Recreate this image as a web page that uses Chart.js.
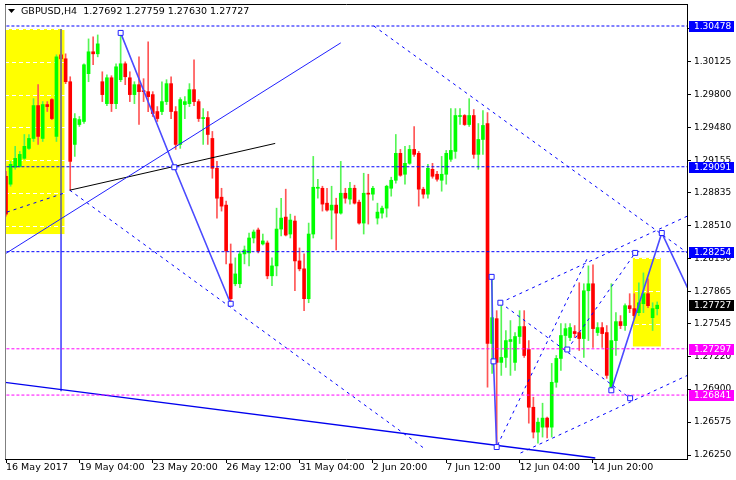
<!DOCTYPE html>
<html>
<head>
<meta charset="utf-8">
<script src="https://cdn.jsdelivr.net/npm/chart.js@4.4.1/dist/chart.umd.min.js"></script>
<style>
  html, body { margin: 0; padding: 0; background: #fff; }
</style>
</head>
<body>
<canvas id="chart" width="736" height="480"></canvas>
<script>
const symbolTitle = 'GBPUSD,H4';

// time axis: bar index of each label (H4 bars, 16 bars apart)
const timeBars = [0, 16, 32, 48, 64, 80, 96, 112, 128];
const timeLabels = ['16 May 2017', '19 May 04:00', '23 May 20:00', '26 May 12:00', '31 May 04:00',
  '2 Jun 20:00', '7 Jun 12:00', '12 Jun 04:00', '14 Jun 20:00'];

const priceTicks = [1.30450, 1.30125, 1.29800, 1.29480, 1.29155, 1.28835, 1.28510, 1.28190,
  1.27865, 1.27545, 1.27220, 1.26900, 1.26575, 1.26250];

// candles, one entry per H4 bar
const opens = [
  1.28997, 1.28919, 1.29086, 1.29095, 1.29174, 1.29272, 1.29370, 1.29694, 1.29370, 1.29704,
  1.29753, 1.29390, 1.30194, 1.30155, 1.29929, 1.29311, 1.29507, 1.29537, 1.30008, 1.30224,
  1.30204, 1.29929, 1.29713, 1.29968, 1.29713, 1.29949, 1.30106, 1.29968, 1.29802, 1.29900,
  1.29841, 1.29831, 1.29802, 1.29635, 1.29635, 1.29733, 1.29910, 1.29635, 1.29311, 1.29704,
  1.29713, 1.29851, 1.29733, 1.29566, 1.29576, 1.29370, 1.29076, 1.28791, 1.28713, 1.28134,
  1.27938, 1.27938, 1.28232, 1.28242, 1.28389, 1.28468, 1.28330, 1.28340, 1.28016, 1.28114,
  1.28477, 1.28595, 1.28428, 1.28556, 1.28163, 1.28085, 1.27791, 1.28428, 1.28879, 1.28879,
  1.28732, 1.28664, 1.28713, 1.28634, 1.28830, 1.28772, 1.28879, 1.28742, 1.28536, 1.28830,
  1.28821, 1.28585, 1.28634, 1.28683, 1.28879, 1.28958, 1.29223, 1.29017, 1.29125, 1.29262,
  1.29223, 1.28870, 1.28821, 1.29066, 1.29017, 1.28958, 1.29017, 1.29164, 1.29242, 1.29586,
  1.29596, 1.29507, 1.29596, 1.29213, 1.29360, 1.29517, 1.27349, 1.27594, 1.27163, 1.27212,
  1.27369, 1.27163, 1.27418, 1.27516, 1.27290, 1.26721, 1.26476, 1.26525, 1.26614, 1.26525,
  1.26967, 1.27202, 1.27428, 1.27408, 1.27467, 1.27457, 1.27398, 1.27869, 1.27938, 1.27457,
  1.27506, 1.27457, 1.26918, 1.27378, 1.27565, 1.27526, 1.27722, 1.27693, 1.27653, 1.27741,
  1.27840, 1.27604, 1.27692
];
const highs = [
  1.29047, 1.29144, 1.29292, 1.29242, 1.29409, 1.29409, 1.29762, 1.29900, 1.29733, 1.29733,
  1.29762, 1.30194, 1.30224, 1.30204, 1.29978, 1.29615, 1.29586, 1.30106, 1.30351, 1.30371,
  1.30390, 1.30027, 1.29998, 1.29988, 1.30106, 1.30410, 1.30125, 1.30027, 1.29929, 1.30174,
  1.29959, 1.30322, 1.29831, 1.29684, 1.29929, 1.29949, 1.29978, 1.29684, 1.29772, 1.29782,
  1.29910, 1.30145, 1.29753, 1.29664, 1.29635, 1.29439, 1.29144, 1.28879, 1.28752, 1.28330,
  1.28193, 1.28261, 1.28310, 1.28438, 1.28468, 1.28487, 1.28428, 1.28360, 1.28193, 1.28683,
  1.28781, 1.28870, 1.28624, 1.28605, 1.28291, 1.28232, 1.28536, 1.29193, 1.28968, 1.28899,
  1.28879, 1.28899, 1.28781, 1.29144, 1.28879, 1.28938, 1.28909, 1.28762, 1.29027, 1.29017,
  1.28899, 1.28732, 1.28703, 1.28909, 1.28988, 1.29409, 1.29262, 1.29292, 1.29301, 1.29488,
  1.29242, 1.28889, 1.29115, 1.29125, 1.29047, 1.29193, 1.29252, 1.29664, 1.29664, 1.29664,
  1.29605, 1.29762, 1.29655, 1.29517, 1.29645, 1.29625, 1.28006, 1.27673, 1.27741, 1.27477,
  1.27575, 1.27457, 1.27673, 1.27673, 1.27378, 1.26820, 1.26614, 1.26761, 1.26623, 1.27153,
  1.27231, 1.27545, 1.27545, 1.27545, 1.27526, 1.27948, 1.27938, 1.28114, 1.28124, 1.27555,
  1.27555, 1.27526, 1.27938, 1.27653, 1.27624, 1.27741, 1.27840, 1.27840, 1.27948, 1.28045,
  1.27987, 1.27751, 1.27759
];
const lows = [
  1.28605, 1.28899, 1.29066, 1.29086, 1.29164, 1.29262, 1.29340, 1.29311, 1.29340, 1.29635,
  1.29556, 1.29340, 1.30145, 1.29910, 1.28860, 1.29193, 1.29488, 1.29517, 1.29929, 1.30096,
  1.30174, 1.29733, 1.29694, 1.29635, 1.29664, 1.29929, 1.29900, 1.29733, 1.29713, 1.29507,
  1.29733, 1.29635, 1.29586, 1.29537, 1.29605, 1.29704, 1.29566, 1.29262, 1.29272, 1.29566,
  1.29684, 1.29694, 1.29537, 1.29311, 1.29311, 1.28978, 1.28585, 1.28654, 1.28134, 1.27741,
  1.27918, 1.27899, 1.28134, 1.28114, 1.28340, 1.28242, 1.28320, 1.27987, 1.27918, 1.28016,
  1.28409, 1.28409, 1.28389, 1.27869, 1.28065, 1.27673, 1.27751, 1.28389, 1.28781, 1.28654,
  1.28654, 1.28379, 1.28271, 1.28624, 1.28732, 1.28723, 1.28723, 1.28526, 1.28428, 1.28526,
  1.28762, 1.28526, 1.28585, 1.28595, 1.28801, 1.28929, 1.28997, 1.28919, 1.29115, 1.29193,
  1.28703, 1.28781, 1.28781, 1.28978, 1.28948, 1.28850, 1.28919, 1.29144, 1.29174, 1.29507,
  1.29498, 1.29488, 1.29174, 1.29066, 1.29213, 1.26918, 1.27055, 1.26329, 1.27035, 1.27114,
  1.27035, 1.27084, 1.27349, 1.27212, 1.26564, 1.26418, 1.26368, 1.26427, 1.26418, 1.26427,
  1.26918, 1.27084, 1.27310, 1.27378, 1.27408, 1.27280, 1.27212, 1.27378, 1.27310, 1.27428,
  1.27310, 1.27006, 1.26908, 1.27231, 1.27496, 1.27477, 1.27653, 1.27594, 1.27624, 1.27653,
  1.27702, 1.27477, 1.27630
];
const closes = [
  1.28624, 1.29115, 1.29174, 1.29213, 1.29292, 1.29370, 1.29694, 1.29390, 1.29704, 1.29684,
  1.29566, 1.30174, 1.30155, 1.29929, 1.29144, 1.29566, 1.29556, 1.30096, 1.30224, 1.30204,
  1.30302, 1.29802, 1.29968, 1.29713, 1.30076, 1.30106, 1.29978, 1.29802, 1.29900, 1.29831,
  1.29831, 1.29782, 1.29615, 1.29566, 1.29733, 1.29910, 1.29635, 1.29311, 1.29753, 1.29733,
  1.29851, 1.29733, 1.29566, 1.29576, 1.29409, 1.29076, 1.28781, 1.28703, 1.28261, 1.27791,
  1.28035, 1.28232, 1.28271, 1.28389, 1.28448, 1.28261, 1.28360, 1.28016, 1.28114, 1.28477,
  1.28585, 1.28418, 1.28566, 1.28163, 1.28085, 1.27791, 1.28428, 1.28889, 1.28889, 1.28723,
  1.28664, 1.28713, 1.28634, 1.28830, 1.28781, 1.28879, 1.28732, 1.28536, 1.28830, 1.28821,
  1.28879, 1.28644, 1.28683, 1.28899, 1.28958, 1.29223, 1.29007, 1.29125, 1.29262, 1.29213,
  1.28870, 1.28821, 1.29076, 1.28997, 1.28968, 1.29017, 1.29223, 1.29252, 1.29596, 1.29596,
  1.29507, 1.29596, 1.29213, 1.29360, 1.29498, 1.27349, 1.27604, 1.27163, 1.27212, 1.27378,
  1.27388, 1.27418, 1.27516, 1.27231, 1.26721, 1.26476, 1.26574, 1.26614, 1.26525, 1.26967,
  1.27202, 1.27428, 1.27496, 1.27506, 1.27447, 1.27398, 1.27869, 1.27938, 1.27496, 1.27506,
  1.27447, 1.27035, 1.27378, 1.27565, 1.27526, 1.27722, 1.27693, 1.27624, 1.27751, 1.27840,
  1.27722, 1.27693, 1.27727
];

// horizontal levels
const blueLevels = [1.30478, 1.29091, 1.28254];
const magentaLevels = [1.27297, 1.26841];

// drawn objects, as [bar, price] points
const trendUp = [[-0.2, 1.28232], [73.0, 1.30312]];
const blackTrend = [[13.9, 1.28860], [58.7, 1.29321]];
const yellowDash = [[0.2, 1.28644], [12.6, 1.28830]];
const fanLeft = [[13.9, 1.28860], [91.1, 1.26319]];
const bigDiagonal = [[80.2, 1.30478], [148.6, 1.28242]];
const bottomLine = [[-0.3, 1.26967], [128.5, 1.26221]];
const vLineTop = [[12, 1.30449], [12, 1.28428]];
const vLineBottom = [[12, 1.28428], [12, 1.26878]];
const zigzagLeft = [[25, 1.30410], [36.7, 1.29086], [49, 1.27741]];
const zigzagDrop = [[105.9, 1.28006], [106.3, 1.27173], [107, 1.26329]];
const steepDash = [[107.2, 1.26349], [126.7, 1.28183]];
const channelTop = [[107.8, 1.27751], [148.6, 1.28605]];
const channelMid = [[107.8, 1.27751], [136.1, 1.26810]];
const channelLow = [[112.2, 1.26270], [148.6, 1.27035]];
const riseDash = [[122.4, 1.27290], [137.2, 1.28242]];
const zigzagRight = [[132, 1.26888], [143, 1.28438], [148.6, 1.27899]];
const anchors = [[25, 1.30410], [36.7, 1.29086], [49, 1.27741], [105.9, 1.28006], [106.3, 1.27173],
  [107, 1.26329], [107.8, 1.27751], [136.1, 1.26810], [122.4, 1.27290], [137.2, 1.28242],
  [132, 1.26888], [143, 1.28438]];

// yellow boxes: [bar from, bar to, price top, price bottom]
const zones = [[-0.3, 12.75, 1.30449, 1.28428], [136.7, 142.8, 1.28193, 1.27320]];

const BLUE = '#0000ff';
const MAGENTA = '#ff00ff';
const FONT = 'DejaVu Sans';
Chart.defaults.font.family = FONT;

const bars = opens.map((_, i) => i);
const rising = bars.map(i => closes[i] >= opens[i]);
const last = opens.length - 1;

function segment(points, color, width, dash) {
  return {
    type: 'line',
    data: points.map(([x, y]) => ({ x, y })),
    borderColor: color,
    borderWidth: width,
    borderDash: dash || [],
    pointRadius: 0,
    tension: 0,
    fill: false,
    order: 0
  };
}

function level(price, color) {
  return segment([[-1, price], [150, price]], color, 1, [3, 2]);
}

const datasets = [
  {
    type: 'bar',
    data: bars.map(i => ({ x: i, y: [lows[i], highs[i]] })),
    backgroundColor: bars.map(i => rising[i] ? '#55f555' : '#ff5555'),
    barThickness: 1,
    grouped: false,
    order: 3
  },
  {
    type: 'bar',
    data: bars.map(i => ({ x: i, y: [opens[i], closes[i]] })),
    backgroundColor: bars.map(i => rising[i] ? '#00ff00' : '#ff0000'),
    barThickness: 3,
    minBarLength: 1,
    grouped: false,
    order: 2
  },
  ...blueLevels.map(p => level(p, BLUE)),
  ...magentaLevels.map(p => level(p, MAGENTA)),
  segment(trendUp, '#2020ff', 1),
  segment(blackTrend, '#000000', 1),
  segment(yellowDash, BLUE, 1, [3, 4]),
  segment(fanLeft, BLUE, 1, [3, 4]),
  segment(bigDiagonal, BLUE, 1, [3, 4]),
  segment(bottomLine, '#0000ee', 1.3),
  segment(vLineBottom, '#3a3aff', 1.5),
  segment(vLineTop, '#808080', 2),
  segment(zigzagLeft, '#4b4bff', 1.6),
  segment(zigzagDrop, '#4b4bff', 1.6),
  segment(steepDash, BLUE, 1, [3, 4]),
  segment(channelTop, BLUE, 1, [3, 4]),
  segment(channelMid, BLUE, 1, [3, 4]),
  segment(channelLow, BLUE, 1, [3, 4]),
  segment(riseDash, BLUE, 1, [3, 4]),
  segment(zigzagRight, '#4b4bff', 1.6),
  {
    type: 'line',
    data: anchors.map(([x, y]) => ({ x, y })),
    showLine: false,
    pointStyle: 'rect',
    pointRadius: 3.5,
    pointBackgroundColor: '#ffffff',
    pointBorderColor: '#2020ff',
    pointBorderWidth: 1,
    order: -1
  }
];

const backdrop = {
  id: 'backdrop',
  beforeDatasetsDraw(chart) {
    const { ctx, chartArea: a, scales: { x, y } } = chart;
    ctx.save();
    ctx.beginPath();
    ctx.rect(a.left, a.top, a.width, a.height);
    ctx.clip();
    ctx.fillStyle = '#ffff00';
    zones.forEach(([b0, b1, p0, p1]) => {
      const x0 = x.getPixelForValue(b0), x1 = x.getPixelForValue(b1);
      const y0 = y.getPixelForValue(p0), y1 = y.getPixelForValue(p1);
      ctx.fillRect(x0, y0, x1 - x0, y1 - y0);
    });
    // grid is white, so it only shows over the yellow boxes
    ctx.strokeStyle = '#ffffff';
    ctx.lineWidth = 1;
    ctx.setLineDash([4, 3]);
    priceTicks.forEach(p => {
      const yy = Math.round(y.getPixelForValue(p)) + 0.5;
      ctx.beginPath();
      ctx.moveTo(a.left, yy);
      ctx.lineTo(a.right, yy);
      ctx.stroke();
    });
    ctx.restore();
  }
};

const overlay = {
  id: 'overlay',
  afterDraw(chart) {
    const { ctx, chartArea: a, scales: { y } } = chart;
    ctx.save();
    // frame
    ctx.lineWidth = 1;
    ctx.strokeStyle = '#000000';
    ctx.beginPath();
    ctx.moveTo(a.left, a.top - 0.5);
    ctx.lineTo(a.right + 1, a.top - 0.5);
    ctx.stroke();
    ctx.strokeStyle = '#808080';
    ctx.beginPath();
    ctx.moveTo(a.left + 0.5, a.top);
    ctx.lineTo(a.left + 0.5, a.bottom);
    ctx.stroke();

    // header
    ctx.fillStyle = '#000000';
    ctx.beginPath();
    ctx.moveTo(8, 9);
    ctx.lineTo(15, 9);
    ctx.lineTo(11.5, 13);
    ctx.closePath();
    ctx.fill();
    ctx.font = '9.5px "' + FONT + '"';
    ctx.textBaseline = 'alphabetic';
    ctx.textAlign = 'left';
    const header = symbolTitle + '  ' + [opens[last], highs[last], lows[last], closes[last]]
      .map(v => v.toFixed(5)).join(' ');
    ctx.fillText(header, 21, 14);

    // price tags on the axis
    ctx.font = '9px "' + FONT + '"';
    ctx.textBaseline = 'middle';
    const tag = (p, bg) => {
      const yy = Math.round(y.getPixelForValue(p));
      ctx.fillStyle = bg;
      ctx.fillRect(a.right + 2, yy - 5, 45, 11);
      ctx.fillStyle = '#ffffff';
      ctx.fillText(p.toFixed(5), a.right + 7, yy + 0.5);
    };
    blueLevels.forEach(p => tag(p, BLUE));
    tag(closes[last], '#000000');
    magentaLevels.forEach(p => tag(p, MAGENTA));
    ctx.restore();
  }
};

new Chart(document.getElementById('chart'), {
  type: 'bar',
  data: { datasets },
  options: {
    responsive: false,
    animation: false,
    events: [],
    layout: { padding: { left: 3, top: 3, right: 0, bottom: 0 } },
    plugins: { legend: { display: false }, tooltip: { enabled: false } },
    scales: {
      x: {
        type: 'linear',
        min: -0.22,
        max: 148.5,
        offset: false,
        bounds: 'data',
        afterBuildTicks: s => { s.ticks = timeBars.map(v => ({ value: v })); },
        afterFit: s => { s.height = 21; s.paddingLeft = 0; s.paddingRight = 0; },
        grid: { offset: false, drawOnChartArea: false, tickLength: 4, tickColor: '#000000' },
        border: { color: '#000000' },
        ticks: {
          autoSkip: false,
          maxRotation: 0,
          align: 'start',
          padding: -1,
          color: '#000000',
          font: { size: 9.5 },
          callback: v => timeLabels[timeBars.indexOf(v)]
        }
      },
      y: {
        type: 'linear',
        position: 'right',
        min: 1.26211,
        max: 1.30685,
        beginAtZero: false,
        bounds: 'data',
        afterBuildTicks: s => { s.ticks = priceTicks.map(v => ({ value: v })); },
        afterFit: s => { s.width = 49; s.paddingTop = 0; s.paddingBottom = 0; },
        grid: { drawOnChartArea: false, tickLength: 4, tickColor: '#000000' },
        border: { color: '#000000' },
        ticks: {
          padding: 3,
          color: '#000000',
          font: { size: 9 },
          callback: v => v.toFixed(5)
        }
      }
    }
  },
  plugins: [backdrop, overlay]
});
</script>
</body>
</html>
